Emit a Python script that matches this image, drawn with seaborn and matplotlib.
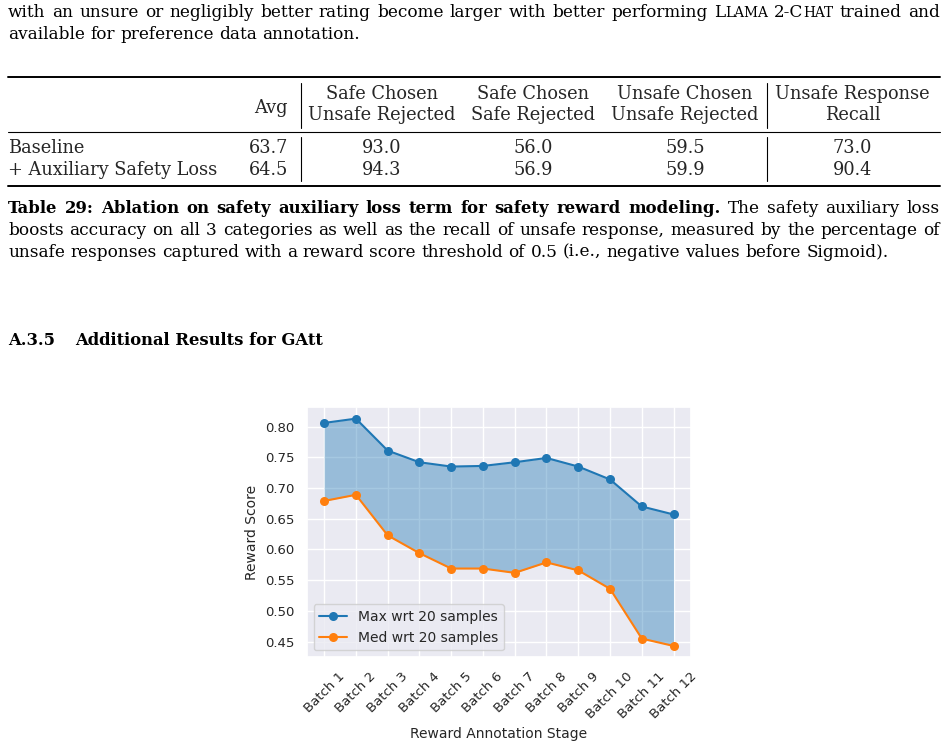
import matplotlib
matplotlib.use("Agg")
import matplotlib.pyplot as plt
import seaborn as sns
from matplotlib.lines import Line2D

# ---- chart data ----
batches = ["Batch 1", "Batch 2", "Batch 3", "Batch 4", "Batch 5", "Batch 6",
           "Batch 7", "Batch 8", "Batch 9", "Batch 10", "Batch 11", "Batch 12"]
max_scores = [0.806, 0.813, 0.761, 0.742, 0.735, 0.736, 0.742, 0.749, 0.735, 0.714, 0.670, 0.657]
med_scores = [0.679, 0.689, 0.623, 0.594, 0.569, 0.569, 0.562, 0.579, 0.566, 0.536, 0.455, 0.443]

# ---- table 29 data ----
row_labels = ["Baseline", "+ Auxiliary Safety Loss"]
col_headers = [("Safe Chosen", "Unsafe Rejected"), ("Safe Chosen", "Safe Rejected"),
               ("Unsafe Chosen", "Unsafe Rejected"), ("Unsafe Response", "Recall")]
avg_acc = [63.7, 64.5]
safe_unsafe = [93.0, 94.3]
safe_safe = [56.0, 56.9]
unsafe_unsafe = [59.5, 59.9]
unsafe_recall = [73.0, 90.4]

BLUE, ORANGE = "#1f77b4", "#ff7f0e"

W, H = 950, 744
SERIF = "DejaVu Serif"
BODY = 12.2
SC = 9.9  # small caps size

sns.set_theme(style="darkgrid")
fig = plt.figure(figsize=(W / 100, H / 100), dpi=100)
fig.patch.set_facecolor("white")
renderer = fig.canvas.get_renderer()


def fx(x):
    return x / W


def fy(y):
    return 1 - y / H


def text_width(s, size, weight="normal"):
    t = fig.text(0, 0, s, fontsize=size, family=SERIF, weight=weight)
    w = t.get_window_extent(renderer).width
    t.remove()
    return w


def space_width(size, weight="normal"):
    return text_width("a a", size, weight) - text_width("aa", size, weight)


def draw_word(pieces, x, y):
    for s, size, weight in pieces:
        t = fig.text(fx(x), fy(y), s, fontsize=size, family=SERIF, weight=weight,
                     va="baseline", ha="left", color="black")
        x += t.get_window_extent(renderer).width
    return x


def word_width(pieces):
    return sum(text_width(s, size, weight) for s, size, weight in pieces)


def words_of(s, size=BODY, weight="normal"):
    return [[(w, size, weight)] for w in s.split(" ")]


def draw_line(words, x0, y, x1=None):
    widths = [word_width(w) for w in words]
    if x1 is None:
        gap = space_width(BODY)
    else:
        gap = (x1 - x0 - sum(widths)) / (len(words) - 1)
    x = x0
    for w, wd in zip(words, widths):
        draw_word(w, x, y)
        x += wd + gap


# ---- body text above the table ----
line1 = words_of("with an unsure or negligibly better rating become larger with better performing")
line1 += [[("L", BODY, "normal"), ("LAMA", SC, "normal")],
          [("2-C", BODY, "normal"), ("HAT", SC, "normal")]]
line1 += words_of("trained and")
draw_line(line1, 8, 17, 940)
draw_line(words_of("available for preference data annotation."), 8, 39)

# ---- table 29 ----
TS = 12.8
for y, lw in [(76.7, 1.4), (131.7, 0.8), (186, 1.4)]:
    fig.add_artist(Line2D([fx(8), fx(940)], [fy(y), fy(y)], color="black", lw=lw))
for x in [301, 766.7]:
    for y0, y1 in [(83, 127.5), (136.5, 181)]:
        fig.add_artist(Line2D([fx(x), fx(x)], [fy(y0), fy(y1)], color="black", lw=0.8))

col_x = [381.5, 533, 685, 852.5]
fig.text(fx(288), fy(112.7), "Avg", fontsize=TS, family=SERIF, ha="right", va="baseline")
for cx, (h1, h2) in zip(col_x, col_headers):
    fig.text(fx(cx), fy(98.7), h1, fontsize=TS, family=SERIF, ha="center", va="baseline")
    fig.text(fx(cx), fy(120.3), h2, fontsize=TS, family=SERIF, ha="center", va="baseline")

columns = [safe_unsafe, safe_safe, unsafe_unsafe, unsafe_recall]
for i, yb in enumerate([152.8, 174.8]):
    fig.text(fx(8), fy(yb), row_labels[i], fontsize=TS, family=SERIF, ha="left", va="baseline")
    fig.text(fx(288), fy(yb), f"{avg_acc[i]:.1f}", fontsize=TS, family=SERIF,
             ha="right", va="baseline")
    for cx, col in zip(col_x, columns):
        fig.text(fx(cx), fy(yb), f"{col[i]:.1f}", fontsize=TS, family=SERIF,
                 ha="center", va="baseline")

# ---- caption ----
cap1 = words_of("Table 29: Ablation on safety auxiliary loss term for safety reward modeling.",
                11.9, "bold")
cap1 += words_of("The safety auxiliary loss")
draw_line(cap1, 8, 213.3, 940)
draw_line(words_of("boosts accuracy on all 3 categories as well as the recall of unsafe response, "
                   "measured by the percentage of"), 8, 235, 940)
draw_line(words_of("unsafe responses captured with a reward score threshold of 0.5 "
                   "(i.e., negative values before Sigmoid)."), 8, 256.7)

# ---- section heading ----
draw_word([("A.3.5", 11.8, "bold")], 8, 345)
draw_word([("Additional Results for GAtt", 11.8, "bold")], 75, 345)

# ---- GAtt reward chart ----
ax = fig.add_axes([0.3228, 0.1165, 0.4046, 0.3361])
sns.lineplot(x=batches, y=max_scores, marker="o", color=BLUE, lw=1.5, markersize=6.5,
             markeredgewidth=0, label="Max wrt 20 samples", ax=ax, sort=False)
sns.lineplot(x=batches, y=med_scores, marker="o", color=ORANGE, lw=1.5, markersize=6.5,
             markeredgewidth=0, label="Med wrt 20 samples", ax=ax, sort=False)
ax.fill_between(batches, max_scores, med_scores, color=BLUE, alpha=0.4, lw=0)
ax.set_xlabel("Reward Annotation Stage", fontsize=10)
ax.set_ylabel("Reward Score", fontsize=10)
ax.tick_params(axis="both", labelsize=9.5, pad=3)
plt.setp(ax.get_xticklabels(), rotation=45)
ax.legend(loc="lower left", fontsize=10)

fig.savefig("out.png", dpi=100)
